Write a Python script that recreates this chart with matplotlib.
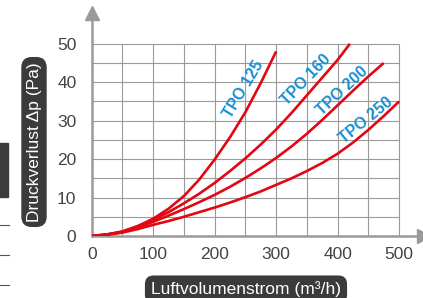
import numpy as np
import matplotlib.pyplot as plt
from matplotlib.patches import Rectangle
from matplotlib.lines import Line2D

plt.rcParams['font.family'] = ['Liberation Sans', 'DejaVu Sans']

# readings from the chart (airflow m3/h -> pressure drop Pa)
q125 = [0, 25, 50, 75, 100, 125, 150, 175, 200, 225, 250, 275, 300]
dp125 = [0, 0.4, 1.2, 2.6, 4.5, 7.1, 10.4, 14.7, 19.9, 25.7, 32.2, 39.8, 48.0]
q160 = [0, 25, 50, 75, 100, 125, 150, 175, 200, 225, 250, 275, 300, 325, 350, 375, 400, 420]
dp160 = [0, 0.4, 1.1, 2.5, 4.2, 6.2, 8.5, 11.0, 13.8, 16.9, 20.2, 23.8, 27.7, 32.0, 36.6, 41.2, 45.8, 50.0]
q200 = [0, 25, 50, 75, 100, 125, 150, 175, 200, 225, 250, 275, 300, 325, 350, 375, 400, 425, 450, 475]
dp200 = [0, 0.4, 1.0, 2.2, 3.7, 5.3, 7.0, 8.8, 10.7, 12.8, 15.1, 17.6, 20.3, 23.3, 26.6, 30.2, 34.0, 37.8, 41.5, 45.0]
q250 = [0, 25, 50, 75, 100, 125, 150, 175, 200, 225, 250, 275, 300, 325, 350, 375, 400, 425, 450, 475, 500]
dp250 = [0, 0.3, 0.9, 1.8, 2.9, 3.9, 5.0, 6.2, 7.4, 8.7, 10.1, 11.6, 13.3, 15.0, 16.9, 19.0, 21.4, 24.3, 27.6, 31.2, 35.0]

names = ['TPO 125', 'TPO 160', 'TPO 200', 'TPO 250']
label_pos = [(247, 38.2, 59), (349, 40.6, 46), (408, 37.8, 43), (446, 30.0, 39)]

xticks = [0, 100, 200, 300, 400, 500]
yticks = [0, 10, 20, 30, 40, 50]

red = '#e30613'
blue = '#1b8fd2'
grey = '#9a9a9a'

fig = plt.figure(figsize=(4.23, 2.98), dpi=100)
ax = fig.add_axes([91.7 / 423, 62 / 298, 332 / 423, 223 / 298])
ax.set_xlim(0, 540)
ax.set_ylim(0, 58)

# grid only inside the 0-500 / 0-50 area
ax.vlines(np.arange(50, 501, 50), 0, 50, color=grey, lw=0.8, zorder=1)
ax.hlines(np.arange(5, 51, 5), 0, 500, color=grey, lw=0.8, zorder=1)

for q, dp in [(q125, dp125), (q160, dp160), (q200, dp200), (q250, dp250)]:
    ax.plot(q, dp, color=red, lw=1.9, solid_capstyle='butt', solid_joinstyle='round', zorder=3)

for name, (x, y, rot) in zip(names, label_pos):
    ax.text(x, y, name, color=blue, fontsize=11.5, fontweight='bold',
            rotation=rot, ha='center', va='center', rotation_mode='anchor', zorder=4)

for s in ['top', 'right']:
    ax.spines[s].set_visible(False)
for s in ['left', 'bottom']:
    ax.spines[s].set_color(grey)
    ax.spines[s].set_linewidth(1.8)
ax.set_xticks(xticks)
ax.set_yticks(yticks)
ax.tick_params(length=0, labelsize=12.5, labelcolor='#444444')
ax.tick_params(axis='x', pad=8)
ax.tick_params(axis='y', pad=11)

# arrow heads
ax.plot(1, 0, '>', color=grey, ms=10, transform=ax.transAxes, clip_on=False)
ax.plot(0, 1, '^', color=grey, ms=10, transform=ax.transAxes, clip_on=False)

fig.text(34 / 423, 1 - 142 / 298, 'Druckverlust Δp (Pa)', rotation=90,
         color='white', fontsize=12.5, ha='center', va='center',
         bbox=dict(boxstyle='round,pad=0.3,rounding_size=0.6', fc='#3b3b3b', ec='none'))
fig.text(246 / 423, 1 - 289.5 / 298, 'Luftvolumenstrom (m³/h)',
         color='white', fontsize=12.5, ha='center', va='center',
         bbox=dict(boxstyle='round,pad=0.35,rounding_size=0.5', fc='#3b3b3b', ec='none'))

# bits of neighbouring content at the left edge
fig.patches.append(Rectangle((0, 1 - 197 / 298), 8 / 423, 54 / 298,
                             transform=fig.transFigure, color='#3b3b3b'))
for yp in [225, 255, 285]:
    fig.lines.append(Line2D([0, 9 / 423], [1 - yp / 298] * 2,
                            transform=fig.transFigure, color='#555555', lw=0.8))

fig.savefig('out.png', dpi=100)
